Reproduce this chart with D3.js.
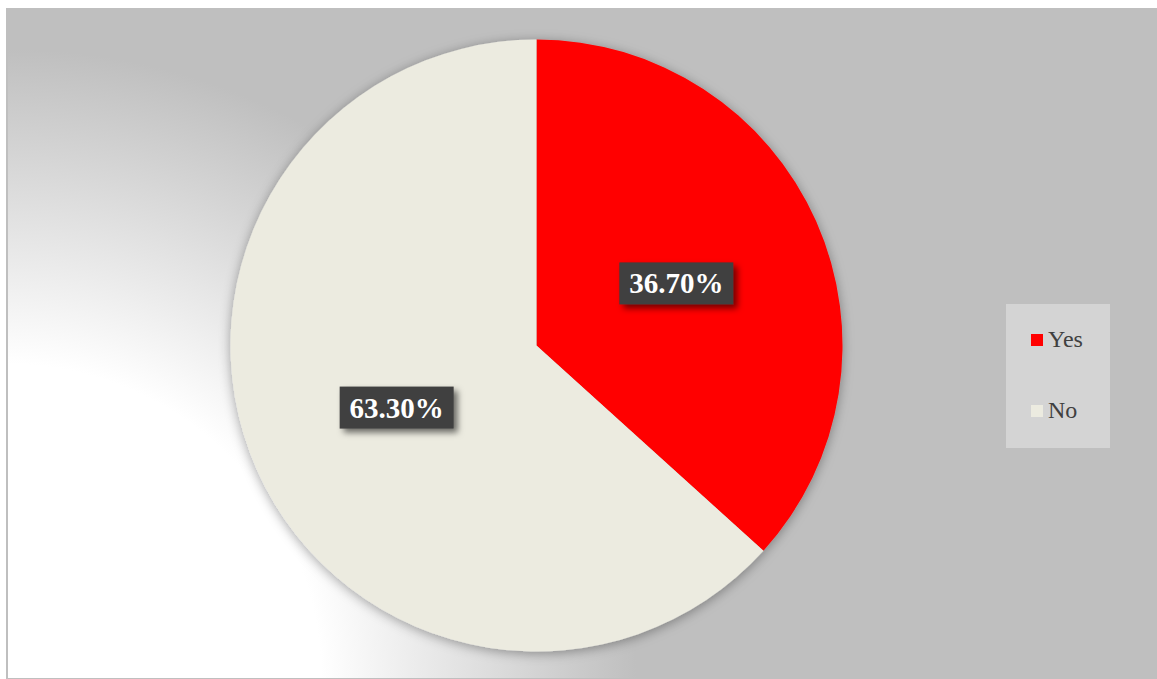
<!DOCTYPE html>
<html>
<head>
<meta charset="utf-8">
<script src="https://cdn.jsdelivr.net/npm/d3@7"></script>
<style>
  body { margin:0; background:#fff; }
  svg { display:block; }
</style>
</head>
<body>
<div id="chart"></div>
<script>
// chart data
var categories = ["Yes", "No"];
var values = [36.7, 63.3];
var labels = ["36.70%", "63.30%"];
var colours = ["#ff0000", "#ecebe0"];

var w = 1157, h = 679;
var cx = 536.5, cy = 345.5, radius = 306;
var serif = "'Liberation Serif', 'Times New Roman', Times, serif";

var svg = d3.select("#chart").append("svg")
    .attr("width", w)
    .attr("height", h);

var defs = svg.append("defs");

// background gradient, white bottom-left fading to gray
var grad = defs.append("radialGradient")
    .attr("id", "bg")
    .attr("gradientUnits", "userSpaceOnUse")
    .attr("cx", 6).attr("cy", h).attr("r", 700);
grad.append("stop").attr("offset", "0").attr("stop-color", "#ffffff");
grad.append("stop").attr("offset", "0.45").attr("stop-color", "#ffffff");
grad.append("stop").attr("offset", "0.9").attr("stop-color", "#bfbfbf");
grad.append("stop").attr("offset", "1").attr("stop-color", "#bfbfbf");

var pieShadow = defs.append("filter").attr("id", "pieShadow")
    .attr("x", "-10%").attr("y", "-10%").attr("width", "120%").attr("height", "120%");
pieShadow.append("feDropShadow")
    .attr("dx", 0).attr("dy", 2).attr("stdDeviation", 6)
    .attr("flood-color", "#000").attr("flood-opacity", 0.35);

var boxShadow = defs.append("filter").attr("id", "boxShadow")
    .attr("x", "-20%").attr("y", "-30%").attr("width", "150%").attr("height", "180%");
boxShadow.append("feDropShadow")
    .attr("dx", 4).attr("dy", 4).attr("stdDeviation", 3)
    .attr("flood-color", "#000").attr("flood-opacity", 0.55);

svg.append("rect")
    .attr("x", 7).attr("y", 9)
    .attr("width", w - 7).attr("height", h - 9)
    .attr("fill", "url(#bg)")
    .attr("stroke", "#bfbfbf")
    .attr("stroke-width", 2);

var pie = d3.pie().value(function(d){ return d; }).sort(null);
var arc = d3.arc().innerRadius(0).outerRadius(radius);

var g = svg.append("g")
    .attr("transform", "translate(" + cx + "," + cy + ")");

g.append("g").attr("filter", "url(#pieShadow)")
  .selectAll("path")
  .data(pie(values))
  .enter().append("path")
    .attr("d", arc)
    .attr("fill", function(d,i){ return colours[i]; });

// data labels
var lab = g.selectAll("g.lab")
    .data(pie(values))
    .enter().append("g")
    .attr("class", "lab")
    .attr("transform", function(d){ return "translate(" + arc.centroid(d) + ")"; });

lab.append("rect")
    .attr("x", -57).attr("y", -21)
    .attr("width", 114).attr("height", 42)
    .attr("fill", "#404040")
    .attr("filter", "url(#boxShadow)");

lab.append("text")
    .attr("text-anchor", "middle")
    .attr("y", 10)
    .attr("fill", "#fff")
    .style("font-family", serif)
    .style("font-weight", "bold")
    .style("font-size", "29px")
    .text(function(d,i){ return labels[i]; });

// legend
var legend = svg.append("g");
legend.append("rect")
    .attr("x", 1006).attr("y", 304)
    .attr("width", 104).attr("height", 144)
    .attr("fill", "#d4d4d4");

var item = legend.selectAll("g.item")
    .data(categories)
    .enter().append("g")
    .attr("class", "item")
    .attr("transform", function(d,i){ return "translate(1031," + (334 + i*71) + ")"; });

item.append("rect")
    .attr("width", 12).attr("height", 12)
    .attr("fill", function(d,i){ return colours[i]; });

item.append("text")
    .attr("x", 17).attr("y", 13)
    .attr("fill", "#404040")
    .style("font-family", serif)
    .style("font-size", "24px")
    .text(function(d){ return d; });
</script>
</body>
</html>
